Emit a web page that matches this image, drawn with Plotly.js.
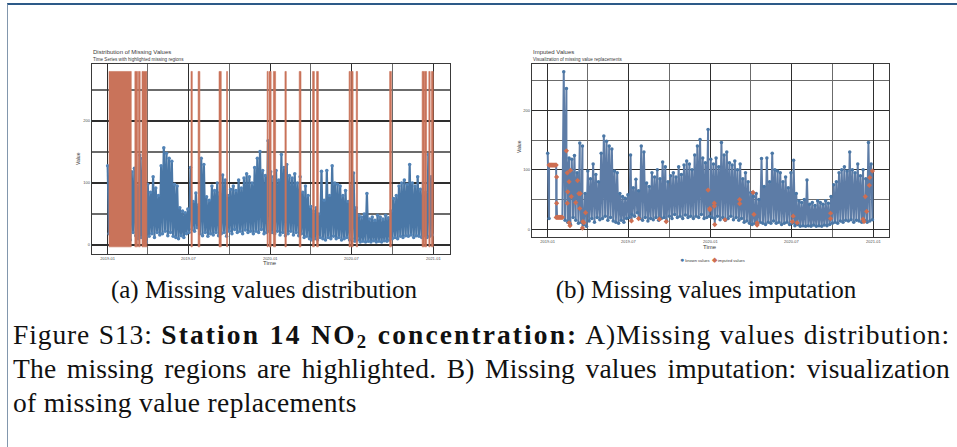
<!DOCTYPE html>
<html>
<head>
<meta charset="utf-8">
<script src="https://cdn.plot.ly/plotly-3.0.1.min.js"></script>
<style>
  html, body { margin:0; padding:0; background:#fff; }
  #page { position:relative; width:957px; height:447px; background:#fff; overflow:hidden; }
  #chart { position:absolute; left:0; top:0; width:957px; height:447px; }
  #frame { position:absolute; left:7px; top:3px; width:960px; height:460px;
           border-top:2px solid #2d5a88; border-left:1px solid #8297ad; }
  .sub { position:absolute; top:276px; height:28px; line-height:28px; font-family:'Liberation Serif', serif;
         font-size:25px; color:#111; white-space:nowrap; transform:translateX(-50%); }
  .cap { position:absolute; left:13px; width:937px; font-family:'Liberation Serif', serif; font-size:27.5px;
         line-height:34px; color:#111; }
  .just { text-align:justify; text-align-last:justify; }
  .cap sub { font-size:0.68em; vertical-align:-0.22em; line-height:0; }
  .l1 { letter-spacing:0.9px; }
  .l1 b { letter-spacing:2.1px; }
  .l2 { letter-spacing:0.2px; }
  .l3 { letter-spacing:0.35px; }
</style>
</head>
<body>
<div id="page">
  <div id="chart"></div>
  <div id="frame"></div>
  <div class="sub" style="left:264px">(a) Missing values distribution</div>
  <div class="sub" style="left:706px">(b) Missing values imputation</div>
  <div class="cap just l1" style="top:318px">Figure S13: <b>Station 14 NO<sub>2</sub> concentration:</b> A)Missing values distribution:</div>
  <div class="cap just l2" style="top:352px">The missing regions are highlighted. B) Missing values imputation: visualization</div>
  <div class="cap l3" style="top:386px">of missing value replacements</div>
</div>
<script>
// ---------- data ----------
const knownStart = '2019-01-01';
const knownStepDays = 3;
const knownValues = [
  // 2019
  128,18,null,null,null,null,null,null,null,null,null,      // Jan
  null,265,15,237,12,120,8,118,20,                          // Feb
  124,15,95,10,145,12,140,8,60,5,                           // Mar
  98,14,85,18,110,12,92,20,80,16,                           // Apr
  128,18,157,22,148,15,140,20,135,14,98,                    // May
  12,95,10,60,15,55,12,52,18,58,                            // Jun
  20,125,25,70,22,84,28,65,18,140,                          // Jul
  15,130,20,78,14,72,18,95,16,88,                           // Aug
  20,100,15,85,18,113,20,105,14,80,                         // Sep
  22,90,18,95,25,88,20,105,22,92,18,                        // Oct
  108,24,115,20,110,22,100,18,125,22,                       // Nov
  140,20,151,25,120,18,112,20,168,22,                       // Dec
  // 2020
  118,20,110,18,120,22,105,16,146,20,                       // Jan
  125,15,130,18,112,22,108,16,115,20,                       // Feb
  100,15,110,18,85,12,95,14,80,10,                          // Mar
  62,8,55,10,60,8,50,12,119,10,                             // Apr
  72,8,120,12,80,10,128,14,100,10,98,                       // May
  12,95,8,80,10,88,12,70,8,95,                              // Jun
  10,116,6,60,8,48,5,45,6,50,                               // Jul
  5,83,6,42,5,45,7,40,5,48,                                 // Aug
  6,45,5,42,7,48,6,44,8,55,                                 // Sep
  10,75,12,80,10,95,14,100,12,105,15,                       // Oct
  98,14,130,16,100,12,95,15,110,14,                         // Nov
  90,12,100,15,85,12,146,14,110,16                          // Dec
];

const missingStart = ['2019-01-04','2019-03-03','2019-03-11','2019-03-19','2019-07-07','2019-07-23','2019-09-08','2019-09-25',
  '2019-12-25','2019-12-29','2020-01-08','2020-02-03','2020-03-06','2020-04-05','2020-04-14','2020-06-26','2020-07-01',
  '2020-07-12','2020-09-25','2020-12-07','2020-12-13','2020-12-22','2020-12-28'];
const missingEnd = ['2019-02-23','2019-03-09','2019-03-15','2019-03-30','2019-07-10','2019-07-27','2019-09-13','2019-09-27',
  '2019-12-27','2020-01-03','2020-01-13','2020-02-06','2020-03-10','2020-04-09','2020-04-18','2020-06-29','2020-07-05',
  '2020-07-15','2020-09-29','2020-12-12','2020-12-17','2020-12-25','2021-01-01'];
const missingBandLow = -3;
const missingBandHigh = 280;

const imputedDates = [
  '2019-01-04','2019-01-06','2019-01-08','2019-01-10','2019-01-12','2019-01-14','2019-01-16','2019-01-18','2019-01-20',
  '2019-01-21','2019-01-21',
  '2019-01-20','2019-01-22','2019-01-24','2019-01-26','2019-01-28','2019-01-30','2019-02-01','2019-02-03',
  '2019-02-12','2019-02-14','2019-02-14','2019-02-15','2019-02-18','2019-02-18','2019-02-20','2019-02-21','2019-02-23',
  '2019-03-05','2019-03-09','2019-03-12','2019-03-14','2019-03-15','2019-03-20','2019-03-21','2019-03-23','2019-03-27',
  '2019-07-08','2019-07-24','2019-09-09','2019-09-24',
  '2019-12-27','2019-12-31','2019-12-31',
  '2020-01-10','2020-01-10','2020-01-11','2020-02-03','2020-03-07','2020-03-07','2020-04-06','2020-04-08','2020-04-15','2020-04-15',
  '2020-07-03','2020-07-05','2020-07-14','2020-09-27','2020-09-27',
  '2020-12-09','2020-12-11','2020-12-14','2020-12-17','2020-12-23','2020-12-24','2020-12-30'];
const imputedValues = [
  108,108,108,108,108,108,108,108,108,
  88,44,
  20,20,20,20,20,20,20,20,
  132,95,44,63,80,11,6,99,55,
  45,82,60,35,60,2,13,11,28,
  14,18,17,13,
  66,35,33,
  39,44,8,16,50,43,62,25,11,7,
  13,22,11,27,18,
  17,13,55,30,74,87,98];

const xTickVals = ['2019-01-01','2019-07-01','2020-01-01','2020-07-01','2021-01-01'];
const yTickVals = [0, 100, 200];
const legendLabels = ['known values', 'imputed values'];

// ---------- derived tables ----------
function addDays(s, n) {
  const d = new Date(s + 'T00:00:00Z');
  d.setUTCDate(d.getUTCDate() + n);
  return d.toISOString().slice(0, 10);
}
const knownDates = knownValues.map((_, i) => addDays(knownStart, i * knownStepDays));

const bandX = [], bandY = [];
missingStart.forEach((s, i) => {
  const e = missingEnd[i];
  bandX.push(s, s, e, e, s, null);
  bandY.push(missingBandLow, missingBandHigh, missingBandHigh, missingBandLow, missingBandLow, null);
});

const merged = [];
knownDates.forEach((d, i) => { if (knownValues[i] !== null) merged.push([d, knownValues[i]]); });
imputedDates.forEach((d, i) => merged.push([d, imputedValues[i]]));
merged.sort((a, b) => (a[0] < b[0] ? -1 : a[0] > b[0] ? 1 : 0));

// ---------- styling ----------
const BLUE = '#4a77a6', RED = '#c9735a', IMPRED = '#cd6e52', LINEGREY = '#5d7ca6';
const gridMajor = '#2e2e2e', gridMinor = '#6b6b6b';

function xAxis(domain, range, anchor) {
  return {
    domain, range, anchor, type: 'date', tickmode: 'array', tickvals: xTickVals, tickformat: '%Y-%m',
    tickfont: { size: 4, color: '#4d4d4d' }, ticks: '',
    showgrid: true, gridcolor: gridMajor, gridwidth: 1.2,
    minor: { dtick: 'M3', tick0: '2019-01-01', showgrid: true, gridcolor: gridMinor, gridwidth: 1.2 },
    showline: true, mirror: true, linecolor: '#3a3a3a', linewidth: 1, zeroline: false
  };
}
function yAxis(domain, range, anchor) {
  return {
    domain, range, anchor, tickmode: 'array', tickvals: yTickVals,
    tickfont: { size: 4, color: '#4d4d4d' }, ticks: '',
    showgrid: true, gridcolor: gridMajor, gridwidth: 1.2,
    minor: { dtick: 50, tick0: 0, showgrid: true, gridcolor: gridMinor, gridwidth: 1.2 },
    showline: true, mirror: true, linecolor: '#3a3a3a', linewidth: 1, zeroline: false
  };
}

const traces = [
  { type: 'scatter', mode: 'lines+markers', x: knownDates, y: knownValues, xaxis: 'x', yaxis: 'y',
    line: { color: BLUE, width: 2.2 }, marker: { color: '#5283b6', size: 3.5 }, connectgaps: false,
    showlegend: false, hoverinfo: 'skip' },
  { type: 'scatter', mode: 'lines', x: bandX, y: bandY, xaxis: 'x', yaxis: 'y', fill: 'toself',
    fillcolor: RED, line: { color: RED, width: 0.6 }, showlegend: false, hoverinfo: 'skip' },
  { type: 'scatter', mode: 'lines', x: merged.map(p => p[0]), y: merged.map(p => p[1]), xaxis: 'x2', yaxis: 'y2',
    line: { color: LINEGREY, width: 2 }, showlegend: false, hoverinfo: 'skip' },
  { type: 'scatter', mode: 'markers', name: legendLabels[0], x: knownDates, y: knownValues, xaxis: 'x2', yaxis: 'y2',
    marker: { color: BLUE, size: 3.5 }, showlegend: false, hoverinfo: 'skip' },
  { type: 'scatter', mode: 'markers', name: legendLabels[1], x: imputedDates, y: imputedValues, xaxis: 'x2', yaxis: 'y2',
    marker: { color: IMPRED, size: 4, symbol: 'diamond' }, showlegend: false, hoverinfo: 'skip' }
];

function txt(text, x, y, size, opts) {
  return Object.assign({ text, x: x / 957, y: 1 - y / 447, xref: 'paper', yref: 'paper', showarrow: false,
    xanchor: 'left', yanchor: 'middle', font: { size, color: '#3a3a3a' } }, opts || {});
}

const layout = {
  width: 957, height: 447, autosize: false,
  margin: { l: 0, r: 0, t: 0, b: 0 },
  paper_bgcolor: '#ffffff', plot_bgcolor: '#ffffff',
  font: { family: 'Liberation Sans, Arial, sans-serif', color: '#3a3a3a' },
  xaxis: xAxis([0.0958, 0.4702], ['2018-11-26 02:00', '2021-02-07 12:00'], 'y'),
  yaxis: yAxis([0.4318, 0.8568], [-14.5, 292], 'x'),
  xaxis2: xAxis([0.5556, 0.9293], ['2018-11-26 02:00', '2021-02-05 22:00'], 'y2'),
  yaxis2: yAxis([0.4691, 0.8568], [-13.5, 278], 'x2'),
  showlegend: false,
  annotations: [
    txt('Distribution of Missing Values', 91.3, 52, 6),
    txt('Time Series with highlighted missing regions', 91.3, 59.3, 4.6),
    txt('Imputed Values', 531.3, 52, 6),
    txt('Visualization of missing value replacements', 531.3, 59.3, 4.6),
    txt('Time', 270, 262.7, 6, { xanchor: 'center' }),
    txt('Time', 710, 246.7, 6, { xanchor: 'center' }),
    txt('Value', 78, 159, 5, { xanchor: 'center', textangle: -90 }),
    txt('Value', 519, 147, 5, { xanchor: 'center', textangle: -90 }),
    txt('<span style="color:' + BLUE + ';font-size:7px">●</span> ' + legendLabels[0] +
        '  <span style="color:' + IMPRED + ';font-size:7px">◆</span> ' + legendLabels[1],
        712, 259.3, 4, { xanchor: 'center' })
  ]
};

Plotly.newPlot('chart', traces, layout, { staticPlot: true, displayModeBar: false });
</script>
</body>
</html>
